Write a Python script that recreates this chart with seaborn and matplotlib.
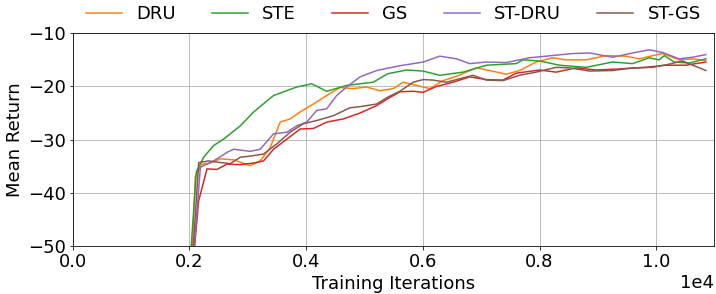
import numpy as np
import pandas as pd
import matplotlib
matplotlib.use("Agg")
import matplotlib.pyplot as plt
import seaborn as sns

methods = ["DRU", "STE", "GS", "ST-DRU", "ST-GS"]
colors = ["tab:orange", "tab:green", "tab:red", "tab:purple", "tab:brown"]

dru_x = [2000, 2100, 2217, 2359, 2530, 2758, 3043, 3214, 3385, 3556, 3726, 3897, 4125, 4353, 4581, 4809, 5037,
         5265, 5493, 5664, 5892, 6120, 6347, 6576, 6918, 7145, 7430, 7658, 7943, 8228, 8456, 8798, 9140, 9481,
         9709, 9937, 10108, 10393, 10621, 10850]
dru_y = [-65, -37, -34.6, -34.4, -33.6, -33.8, -34.9, -34.0, -31.5, -26.7, -26.1, -24.8, -23.3, -21.7, -20.2,
         -20.4, -20.1, -20.8, -20.4, -19.2, -19.8, -20.4, -18.9, -18.1, -16.5, -17.0, -17.7, -17.0, -15.4, -14.6,
         -15.0, -15.0, -14.2, -14.3, -14.8, -14.2, -13.8, -15.0, -14.8, -15.1]

ste_x = [2000, 2120, 2245, 2416, 2587, 2872, 3100, 3442, 3840, 4097, 4353, 4695, 5150, 5400, 5721, 6005, 6291,
         6689, 7089, 7601, 7715, 8000, 8342, 8798, 9253, 9595, 9880, 10051, 10137, 10308, 10564, 10850]
ste_y = [-55, -36, -33.3, -31.1, -29.9, -27.4, -24.8, -21.7, -20.1, -19.5, -20.9, -19.8, -19.2, -17.6, -16.9,
         -17.1, -17.9, -17.3, -16.0, -15.7, -15.0, -15.2, -16.0, -16.4, -15.4, -15.7, -14.6, -15.0, -14.2, -15.4,
         -15.6, -14.8]

gs_x = [2050, 2159, 2302, 2473, 2644, 2872, 3100, 3271, 3442, 3670, 3897, 4125, 4353, 4638, 4923, 5208, 5400,
        5607, 5835, 6005, 6234, 6518, 6803, 7089, 7373, 7601, 8000, 8285, 8627, 8969, 9367, 9823, 10165, 10507,
        10850]
gs_y = [-55, -41.5, -35.5, -35.6, -34.6, -34.7, -34.4, -34.0, -31.8, -29.9, -28.0, -27.9, -26.7, -26.1, -25.0,
        -23.6, -22.3, -21.0, -20.9, -21.1, -20.0, -19.2, -18.2, -18.7, -18.8, -17.5, -16.9, -17.3, -16.5, -16.9,
        -16.7, -16.4, -16.0, -16.0, -15.4]

stdru_x = [2050, 2188, 2416, 2644, 2758, 3043, 3214, 3442, 3670, 3840, 4012, 4183, 4353, 4524, 4695, 4923, 5208,
           5607, 6005, 6291, 6576, 6803, 7089, 7430, 7829, 8114, 8570, 8855, 9253, 9595, 9880, 10108, 10393,
           10621, 10850]
stdru_y = [-55, -35.2, -34.0, -32.4, -31.8, -32.2, -31.8, -28.9, -28.6, -27.4, -26.7, -24.5, -24.2, -21.7, -20.1,
           -18.2, -17.0, -16.1, -15.4, -14.3, -14.8, -15.7, -15.4, -15.5, -14.6, -14.3, -13.8, -13.7, -14.5, -13.7,
           -13.1, -13.6, -14.8, -14.5, -14.0]

stgs_x = [2020, 2160, 2330, 2530, 2701, 2872, 3043, 3271, 3499, 3726, 3954, 4183, 4467, 4752, 4923, 5208, 5400,
          5607, 5835, 6005, 6177, 6405, 6860, 7089, 7373, 7658, 7943, 8285, 8513, 8855, 9253, 9595, 9937, 10222,
          10450, 10850]
stgs_y = [-58, -34.3, -34.0, -34.3, -34.5, -33.3, -33.1, -32.7, -30.8, -28.6, -27.0, -26.4, -25.5, -24.0, -23.8,
          -23.3, -22.0, -20.9, -19.2, -18.7, -18.8, -19.2, -17.9, -18.8, -18.9, -17.9, -17.3, -16.4, -16.5, -17.1,
          -17.0, -16.5, -16.4, -15.8, -15.2, -17.0]

series = {"DRU": (dru_x, dru_y), "STE": (ste_x, ste_y), "GS": (gs_x, gs_y),
          "ST-DRU": (stdru_x, stdru_y), "ST-GS": (stgs_x, stgs_y)}

frames = []
for m in methods:
    xs, ys = series[m]
    frames.append(pd.DataFrame({"iter": xs, "ret": ys, "method": m}))
df = pd.concat(frames, ignore_index=True)

plt.rcParams["font.family"] = ["DejaVu Sans"]
plt.rcParams["font.size"] = 18

DPI = 72
fig = plt.figure(figsize=(716 / DPI, 294 / DPI), dpi=DPI)
ax = fig.add_axes([0.1015, 0.1633, 0.8957, 0.7234])

sns.lineplot(data=df, x="iter", y="ret", hue="method", hue_order=methods,
             palette=colors, sort=False, estimator=None, linewidth=1.5, ax=ax)

ax.set_xlim(0, 10990)
ax.set_ylim(-50, -10)
ax.set_yticks([-50, -40, -30, -20, -10])
ax.set_xticks([0, 2000, 4000, 6000, 8000, 10000])
ax.ticklabel_format(style="sci", axis="x", scilimits=(0, 0))
ax.grid(True, color="#b0b0b0", linewidth=0.8)
ax.set_xlabel("Training Iterations", fontsize=18)
ax.set_ylabel("Mean Return", fontsize=18)
ax.tick_params(labelsize=18)

ax.legend(loc="lower center", bbox_to_anchor=(0.5, 0.97), ncol=5, frameon=False, fontsize=18)

fig.savefig("out.png", dpi=DPI)
